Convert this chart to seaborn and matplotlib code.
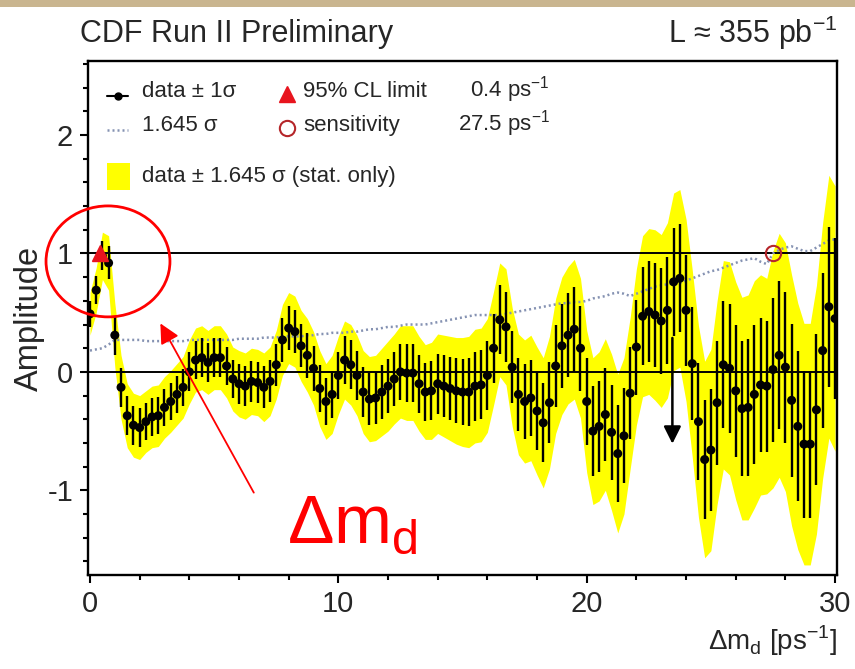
import numpy as np
import pandas as pd
import matplotlib
matplotlib.use("Agg")
import matplotlib.pyplot as plt
import seaborn as sns
from matplotlib.patches import Ellipse, Rectangle
from matplotlib.ticker import MultipleLocator

# amplitude scan, one point every 0.25 ps^-1 from 0 to 30
dm = np.arange(121) * 0.25

amplitude = [
    0.49, 0.69, 0.98, 0.92, 0.31, -0.13, -0.37, -0.45,
    -0.47, -0.42, -0.38, -0.37, -0.30, -0.25, -0.19, -0.13,
    0.00, 0.10, 0.12, 0.08, 0.12, 0.12, 0.05, -0.06,
    -0.10, -0.12, -0.08, -0.09, -0.13, -0.08, 0.06, 0.27,
    0.37, 0.34, 0.22, 0.14, 0.03, -0.14, -0.25, -0.19,
    -0.03, 0.10, 0.06, -0.03, -0.17, -0.23, -0.22, -0.17,
    -0.12, -0.06, 0.00, -0.01, -0.01, -0.10, -0.17, -0.16,
    -0.10, -0.12, -0.14, -0.16, -0.17, -0.17, -0.12, -0.11,
    -0.03, 0.20, 0.44, 0.38, 0.04, -0.19, -0.25, -0.22,
    -0.33, -0.43, -0.26, 0.05, 0.22, 0.31, 0.36, 0.20,
    -0.25, -0.50, -0.46, -0.36, -0.51, -0.69, -0.54, -0.18,
    0.21, 0.47, 0.51, 0.48, 0.43, 0.52, 0.76, 0.79,
    0.52, 0.07, -0.42, -0.74, -0.66, -0.26, 0.06, 0.03,
    -0.16, -0.31, -0.30, -0.19, -0.11, -0.12, 0.02, 0.14,
    0.04, -0.24, -0.46, -0.61, -0.61, -0.32, 0.18, 0.55,
    0.45,
]

# 1.645 sigma (dotted curve)
sigma_1645 = [
    0.18, 0.19, 0.20, 0.23, 0.27, 0.27, 0.27, 0.27,
    0.27, 0.26, 0.26, 0.26, 0.26, 0.26, 0.26, 0.26,
    0.27, 0.27, 0.27, 0.27, 0.27, 0.27, 0.27, 0.27,
    0.28, 0.28, 0.28, 0.28, 0.29, 0.29, 0.29, 0.30,
    0.30, 0.30, 0.30, 0.31, 0.31, 0.32, 0.32, 0.33,
    0.33, 0.33, 0.34, 0.34, 0.35, 0.36, 0.36, 0.37,
    0.38, 0.38, 0.39, 0.40, 0.40, 0.40, 0.40, 0.41,
    0.42, 0.43, 0.44, 0.45, 0.46, 0.47, 0.48, 0.48,
    0.48, 0.48, 0.48, 0.49, 0.50, 0.51, 0.52, 0.53,
    0.54, 0.55, 0.56, 0.57, 0.58, 0.58, 0.59, 0.59,
    0.60, 0.62, 0.63, 0.64, 0.66, 0.67, 0.66, 0.64,
    0.66, 0.68, 0.70, 0.72, 0.73, 0.74, 0.75, 0.75,
    0.77, 0.79, 0.81, 0.83, 0.85, 0.86, 0.88, 0.90,
    0.92, 0.94, 0.95, 0.96, 0.93, 0.91, 1.00, 1.03,
    1.05, 1.06, 1.04, 1.02, 1.02, 1.05, 1.08, 1.11,
    1.12,
]

limit_95 = 0.4      # ps^-1
sensitivity = 27.5  # ps^-1
lumi = 355          # pb^-1

df = pd.DataFrame({"dm": dm, "amp": amplitude, "s1645": sigma_1645})
df["sigma"] = df["s1645"] / 1.645
df["lo"] = df["amp"] - df["s1645"]
df["hi"] = df["amp"] + df["s1645"]

sns.set_theme(style="ticks")
plt.rcParams["font.family"] = ["Liberation Sans", "DejaVu Sans"]
plt.rcParams["axes.linewidth"] = 1.7
plt.rcParams["axes.unicode_minus"] = False

yellow = "#ffff00"
dotted_col = "#8592b2"

fig = plt.figure(figsize=(8.55, 6.69), dpi=100)
fig.patch.set_facecolor("white")
# slide background strip at the very top
fig.patches.append(Rectangle((0, 1 - 7 / 669), 1, 7 / 669, transform=fig.transFigure,
                             facecolor="#c9b58f", edgecolor="none", zorder=0))
ax = fig.add_axes([0.1035, 0.1405, 0.8755, 0.7683])

ax.fill_between(df["dm"], df["lo"], df["hi"], color=yellow, lw=0, zorder=1)
ax.axhline(0, color="black", lw=1.4, zorder=2)
ax.axhline(1, color="black", lw=1.4, zorder=2)
sns.lineplot(data=df, x="dm", y="s1645", ax=ax, color=dotted_col, lw=1.8,
             linestyle=(0, (0.8, 1.2)), zorder=3)
ax.errorbar(df["dm"], df["amp"], yerr=df["sigma"], fmt="none", ecolor="black",
            elinewidth=1.7, capsize=0, zorder=4)
sns.scatterplot(data=df, x="dm", y="amp", ax=ax, color="black", s=42,
                edgecolor="none", zorder=5)
ax.plot(limit_95, 1.0, marker="^", color="#e8141e", ms=11, mec="#e8141e", zorder=6)
ax.plot(sensitivity, 1.0, marker="o", mfc="none", mec="#b5262a", ms=11, mew=1.5, zorder=6)

# downward arrow near 23.5
ax.annotate("", xy=(23.45, -0.63), xytext=(23.45, 0.31),
            arrowprops=dict(arrowstyle="-|>", color="black", lw=1.8, mutation_scale=26),
            zorder=7)

ax.set_xlim(-0.06, 30.08)
ax.set_ylim(-1.715, 2.625)
ax.xaxis.set_major_locator(MultipleLocator(10))
ax.xaxis.set_minor_locator(MultipleLocator(2))
ax.yaxis.set_major_locator(MultipleLocator(1))
ax.yaxis.set_minor_locator(MultipleLocator(0.2))
ax.tick_params(which="both", direction="out", width=1.5, labelsize=21, color="black",
               top=False, right=False)
ax.tick_params(which="major", length=6, pad=5)
ax.tick_params(which="minor", length=3.5)
for s in ax.spines.values():
    s.set_visible(True)
    s.set_color("black")

ax.set_ylabel("Amplitude", fontsize=23.5)
ax.yaxis.set_label_coords(-0.058, 0.5)
ax.set_xlabel("Δm$_\\mathregular{d}$ [ps$^\\mathregular{-1}$]", fontsize=20, loc="right",
              labelpad=4)

fig.text(80 / 855, 1 - 42 / 669, "CDF Run II Preliminary", fontsize=22, va="baseline")
fig.text(838 / 855, 1 - 43 / 669, f"L ≈ {lumi} pb$^\\mathregular{{-1}}$", fontsize=22,
         va="baseline", ha="right")

# legend drawn in axes fraction
T = ax.transAxes
fs = 16
ax.plot([0.025, 0.053], [0.931, 0.931], color="black", lw=1.5, transform=T)
ax.plot([0.039], [0.931], "o", color="black", ms=5, transform=T)
ax.text(0.0715, 0.930, "data ± 1σ", fontsize=fs, va="baseline", transform=T)
ax.plot([0.265], [0.936], "^", color="#e8141e", ms=11, transform=T)
ax.text(0.2866, 0.930, "95% CL limit", fontsize=fs, va="baseline", transform=T)
ax.text(0.616, 0.930, f"{limit_95} ps$^\\mathregular{{-1}}$", fontsize=fs, va="baseline",
        ha="right", transform=T)

ax.plot([0.025, 0.053], [0.866, 0.866], color=dotted_col, lw=1.8,
        linestyle=(0, (0.8, 1.2)), transform=T)
ax.text(0.0715, 0.864, "1.645 σ", fontsize=fs, va="baseline", transform=T)
ax.plot([0.265], [0.870], "o", mfc="none", mec="#b5262a", ms=11, mew=1.5, transform=T)
ax.text(0.2866, 0.864, "sensitivity", fontsize=fs, va="baseline", transform=T)
ax.text(0.616, 0.864, f"{sensitivity} ps$^\\mathregular{{-1}}$", fontsize=fs,
        va="baseline", ha="right", transform=T)

ax.add_patch(Rectangle((0.0247, 0.749), 0.031, 0.0526, transform=T,
                       facecolor=yellow, edgecolor="none"))
ax.text(0.0715, 0.7646, "data ± 1.645 σ (stat. only)", fontsize=fs, va="baseline",
        transform=T)

# red annotation: circle round the Bd peak, arrow and label
ax.add_patch(Ellipse((0.725, 0.933), 4.99, 0.937, fill=False, edgecolor="red", lw=2,
                     clip_on=False, zorder=8))
ax.annotate("", xy=(2.78, 0.43), xytext=(6.65, -1.04),
            arrowprops=dict(arrowstyle="-|>", color="red", lw=1.3, mutation_scale=30),
            zorder=8)
ax.text(7.95, -1.44, "Δm$_\\mathregular{d}$", fontsize=50, color="red", va="baseline",
        zorder=8)

fig.savefig("out.png", dpi=100)
